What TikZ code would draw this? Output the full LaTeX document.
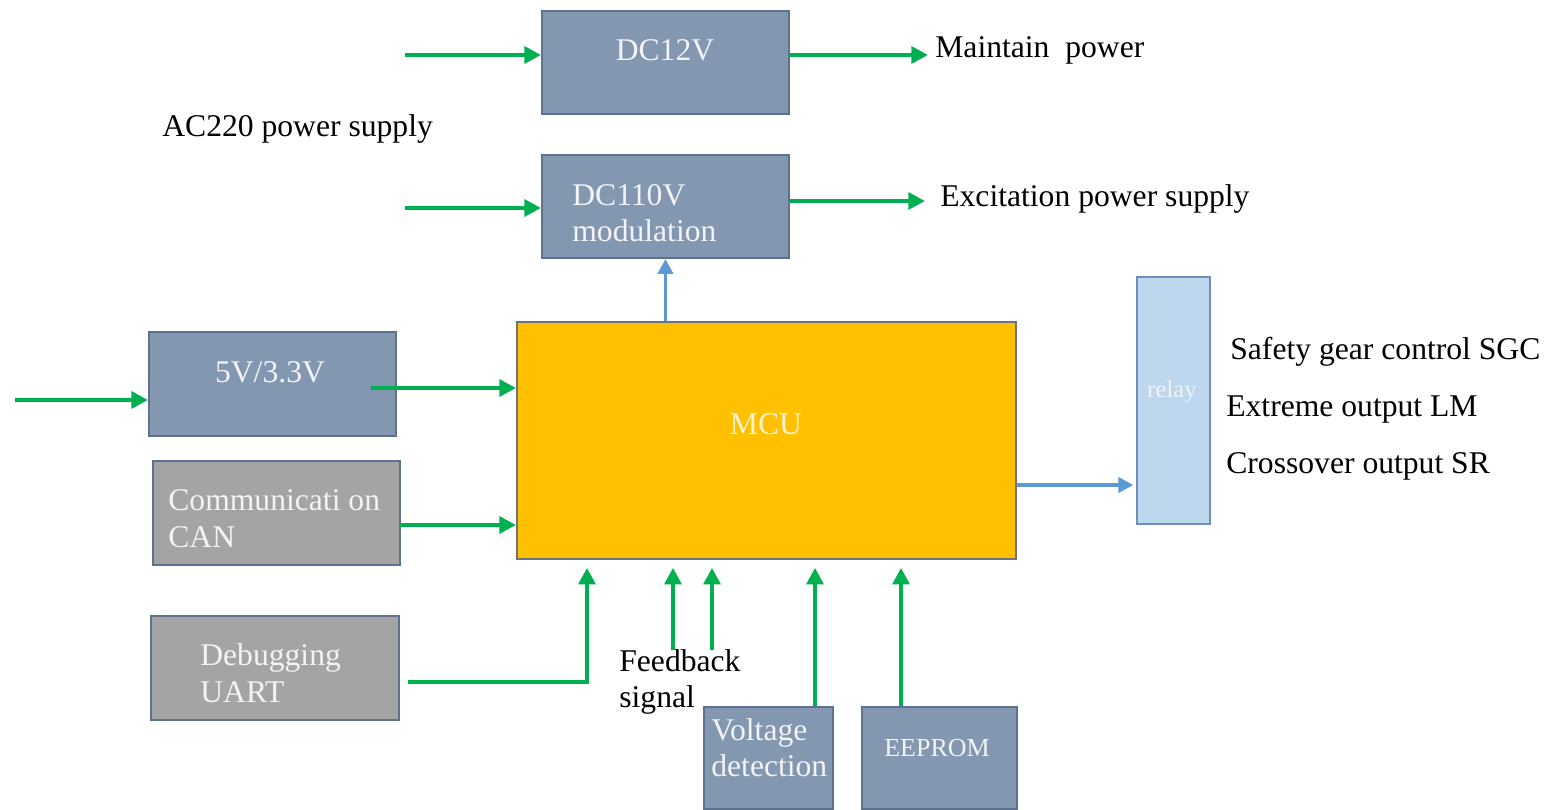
\documentclass[tikz,border=0pt]{standalone}
\usepackage{fontspec}
\setmainfont{Liberation Serif}
\usetikzlibrary{arrows.meta}
\definecolor{bgfill}{HTML}{8497B0}
\definecolor{bgline}{HTML}{5E7191}
\definecolor{grayfill}{HTML}{A4A4A4}
\definecolor{mcufill}{HTML}{FFC000}
\definecolor{mculine}{HTML}{70737C}
\definecolor{relayfill}{HTML}{BDD7EE}
\definecolor{relayline}{HTML}{6E8FB8}
\definecolor{arrgreen}{HTML}{00B050}
\definecolor{arrblue}{HTML}{5B9BD5}
\definecolor{boxtext}{HTML}{F2F3F6}
\definecolor{mcutext}{HTML}{FFF3D2}
\begin{document}
\begin{tikzpicture}[x=0.02cm,y=-0.02cm,
  blk/.style={draw=bgline, line width=1.1pt, inner sep=0pt, anchor=north west},
  bluebox/.style={blk, fill=bgfill},
  graybox/.style={blk, fill=grayfill},
  mcubox/.style={blk, draw=mculine, fill=mcufill},
  relaybox/.style={blk, draw=relayline, fill=relayfill},
  wtext/.style={text=boxtext, font=\fontsize{18}{21}\selectfont, inner sep=0pt, anchor=base west},
  ktext/.style={text=black, font=\fontsize{18}{21}\selectfont, inner sep=0pt, anchor=base west},
  garrow/.style={draw=arrgreen, line width=2.7pt, -{Triangle[length=9.5pt,width=9.5pt]}},
  barrow/.style={draw=arrblue, line width=2.1pt, -{Triangle[length=8.5pt,width=8.5pt]}},
]
\useasboundingbox (0,0) rectangle (1546,810);

% boxes
\node[bluebox, minimum width=4.94cm, minimum height=2.06cm] (dc12) at (541,10) {};
\node[bluebox, minimum width=4.94cm, minimum height=2.06cm] (dc110) at (541,154) {};
\node[mcubox, minimum width=9.98cm, minimum height=4.74cm] (mcu) at (516,321) {};
\node[bluebox, minimum width=4.94cm, minimum height=2.08cm] (v5) at (148,331) {};
\node[graybox, minimum width=4.94cm, minimum height=2.08cm] (can) at (152,460) {};
\node[graybox, minimum width=4.96cm, minimum height=2.08cm] (uart) at (150,615) {};
\node[bluebox, minimum width=2.58cm, minimum height=2.04cm] (vdet) at (703,706) {};
\node[bluebox, minimum width=3.1cm, minimum height=2.04cm] (eeprom) at (861,706) {};
\node[relaybox, minimum width=1.46cm, minimum height=4.94cm] (relay) at (1136,276) {};

% box texts
\node[wtext, anchor=base] (t12) at (665,61) {DC12V};
\node[wtext] (t110a) at (572,206) {DC110V};
\node[wtext] (t110b) at (572,242) {modulation};
\node[wtext, anchor=base] (t5) at (270,383) {5V/3.3V};
\node[wtext] (tcana) at (168,511) {Communicati on};
\node[wtext] (tcanb) at (168,548) {CAN};
\node[wtext] (tuarta) at (200,666) {Debugging};
\node[wtext] (tuartb) at (200,703) {UART};
\node[wtext] (tvda) at (711,741) {Voltage};
\node[wtext] (tvdb) at (711,777) {detection};
\node[wtext, anchor=base, font=\fontsize{14.8}{18}\selectfont] (tee) at (937,757) {EEPROM};
\node[wtext, anchor=base, text=mcutext] (tmcu) at (766,435) {MCU};
\node[wtext, anchor=base, font=\fontsize{14}{17}\selectfont] (trel) at (1172,398) {relay};

% black labels
\node[ktext] (lac) at (162,137) {AC220 power supply};
\node[ktext] (lmp) at (935,58) {Maintain\ \ power};
\node[ktext] (lex) at (940,207) {Excitation power supply};
\node[ktext] (lsg) at (1230,360) {Safety gear control SGC};
\node[ktext] (llm) at (1226,417) {Extreme output LM};
\node[ktext] (lsr) at (1226,474) {Crossover output SR};
\node[ktext] (lfba) at (619,672) {Feedback};
\node[ktext] (lfbb) at (619,708) {signal};

% connector end points
\coordinate (i12) at (405,55);
\coordinate (o12) at (928,55);
\coordinate (i110) at (405,208);
\coordinate (o110) at (925,201);
\coordinate (i5) at (15,400);
\coordinate (s5) at (371,388);
\coordinate (sc) at (400,525);
\coordinate (su) at (408,682);
\coordinate (tu) at (587,682);
\coordinate (f1) at (673,650);
\coordinate (f2) at (712,650);
\coordinate (xv) at (815,700);
\coordinate (xe) at (901,700);
\coordinate (yr) at (1000,485);

% connectors
\draw[garrow] (i12) -- (i12 -| dc12.west);
\draw[garrow] (o12 -| dc12.east) -- (o12);
\draw[garrow] (i110) -- (i110 -| dc110.west);
\draw[garrow] (o110 -| dc110.east) -- (o110);
\draw[barrow] (dc110.south |- mcu.north) -- (dc110.south);
\draw[garrow] (i5) -- (i5 -| v5.west);
\draw[garrow] (s5) -- (s5 -| mcu.west);
\draw[garrow] (sc) -- (sc -| mcu.west);
\draw[garrow, shorten >=4.5pt] (su) -- (tu) -- (tu |- mcu.south);
\draw[garrow, shorten >=4.5pt] (f1) -- (f1 |- mcu.south);
\draw[garrow, shorten >=4.5pt] (f2) -- (f2 |- mcu.south);
\draw[garrow, shorten >=4.5pt] (xv |- vdet.north) -- (xv |- mcu.south);
\draw[garrow, shorten >=4.5pt] (xe |- eeprom.north) -- (xe |- mcu.south);
\draw[barrow, shorten >=1.5pt] (yr -| mcu.east) -- (yr -| relay.west);
\end{tikzpicture}
\end{document}
